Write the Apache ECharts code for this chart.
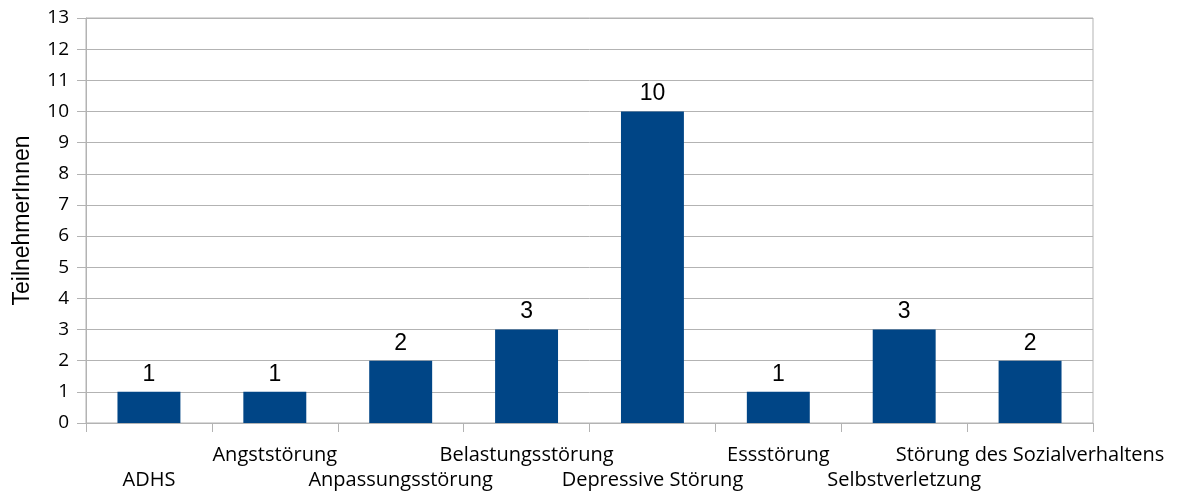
<!DOCTYPE html>
<html>
<head>
<meta charset="utf-8">
<script src="https://cdn.jsdelivr.net/npm/echarts@6/dist/echarts.min.js"></script>
<style>
  html, body { margin: 0; padding: 0; background: #fff; }
  #chart { width: 1180px; height: 493px; }
</style>
</head>
<body>
<div id="chart"></div>
<script>
// Kategorien und Werte
var categories = ['ADHS', 'Angststörung', 'Anpassungsstörung', 'Belastungsstörung',
    'Depressive Störung', 'Essstörung', 'Selbstverletzung', 'Störung des Sozialverhaltens'];
var teilnehmer = [1, 1, 2, 3, 10, 1, 3, 2];
var yTicks = [0, 13, 1]; // min, max, interval

var myChart = echarts.init(document.getElementById('chart'));
var option = {
    animation: false,
    backgroundColor: '#fff',
    grid: {
        left: 86,
        right: 87,
        top: 18,
        bottom: 70,
        show: true,
        borderColor: '#b3b3b3',
        borderWidth: 1
    },
    xAxis: {
        type: 'category',
        data: categories,
        axisLine: { lineStyle: { color: '#b3b3b3' } },
        axisTick: { show: true, alignWithLabel: false, length: 9, lineStyle: { color: '#b3b3b3' } },
        axisLabel: {
            interval: 0,
            margin: 20,
            color: '#000',
            fontFamily: '"Open Sans"',
            fontSize: 20,
            lineHeight: 25,
            formatter: function (value, idx) {
                // versetzte Beschriftung wie im Original
                return idx % 2 === 0 ? '\n' + value : value;
            }
        }
    },
    yAxis: {
        type: 'value',
        min: yTicks[0],
        max: yTicks[1],
        interval: yTicks[2],
        name: 'TeilnehmerInnen',
        nameLocation: 'middle',
        nameGap: 52,
        nameTextStyle: { color: '#000', fontFamily: '"Liberation Sans"', fontSize: 23 },
        axisLine: { show: true, lineStyle: { color: '#b3b3b3' } },
        axisTick: { show: true, length: 9, lineStyle: { color: '#b3b3b3' } },
        axisLabel: { color: '#000', fontFamily: '"Open Sans"', fontSize: 19, margin: 17 },
        splitLine: { show: true, lineStyle: { color: '#b3b3b3' } }
    },
    series: [{
        type: 'bar',
        data: teilnehmer,
        barWidth: '50%',
        itemStyle: { color: '#004586' },
        label: {
            show: true,
            position: 'top',
            distance: 6,
            color: '#000',
            fontFamily: '"Liberation Sans"',
            fontSize: 23
        }
    }]
};
myChart.setOption(option);
</script>
</body>
</html>
